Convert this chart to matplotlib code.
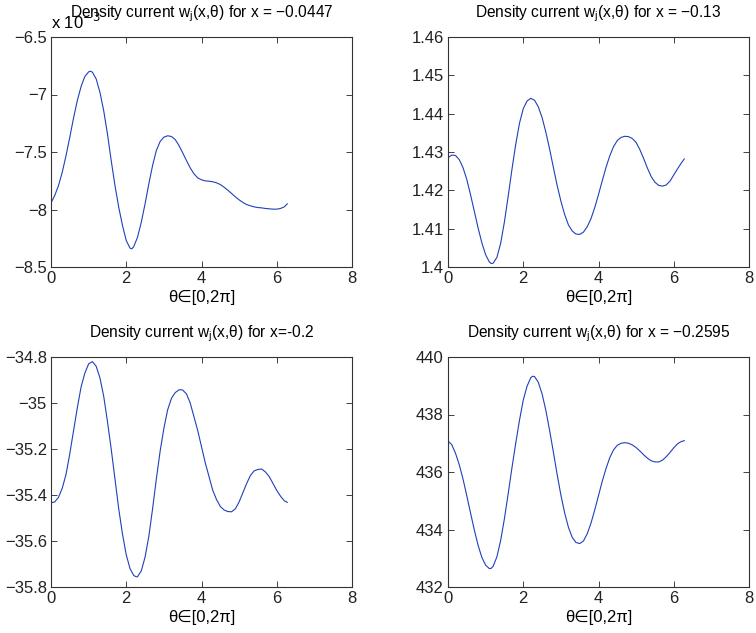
import matplotlib
matplotlib.use("Agg")
import matplotlib.pyplot as plt
from matplotlib.ticker import FuncFormatter

plt.rcParams['font.family'] = ['Liberation Sans', 'DejaVu Sans']
plt.rcParams['font.size'] = 10

# values (theta in [0, 2pi])
theta_a = [0, 0.1, 0.2, 0.3, 0.4, 0.5, 0.6, 0.7, 0.8, 0.9, 1.0, 1.05, 1.1, 1.2, 1.3, 1.4,
           1.5, 1.6, 1.7, 1.8, 1.9, 2.0, 2.1, 2.15, 2.2, 2.3, 2.4, 2.5, 2.6, 2.7, 2.8, 2.9,
           3.0, 3.1, 3.2, 3.3, 3.4, 3.5, 3.6, 3.7, 3.8, 3.9, 4.0, 4.1, 4.2, 4.3, 4.4, 4.5,
           4.6, 4.7, 4.8, 4.9, 5.0, 5.1, 5.2, 5.3, 5.4, 5.5, 5.6, 5.7, 5.8, 5.9, 6.0, 6.1,
           6.2, 6.28]
w_a = [-7.942, -7.878, -7.791, -7.675, -7.530, -7.371, -7.203, -7.052, -6.930, -6.843,
       -6.803, -6.797, -6.806, -6.864, -6.980, -7.139, -7.342, -7.574, -7.791, -7.980,
       -8.139, -8.270, -8.336, -8.342, -8.322, -8.241, -8.110, -7.951, -7.777, -7.617,
       -7.487, -7.409, -7.371, -7.359, -7.365, -7.391, -7.443, -7.507, -7.574, -7.638,
       -7.690, -7.725, -7.742, -7.751, -7.754, -7.759, -7.768, -7.783, -7.806, -7.832,
       -7.861, -7.890, -7.916, -7.939, -7.957, -7.968, -7.977, -7.983, -7.986, -7.991,
       -7.994, -7.997, -7.997, -7.991, -7.977, -7.951]  # x 1e-3

theta_b = [0, 0.1, 0.2, 0.3, 0.4, 0.5, 0.6, 0.7, 0.8, 0.9, 1.0, 1.1, 1.15, 1.2, 1.3, 1.4,
           1.5, 1.6, 1.7, 1.8, 1.9, 2.0, 2.1, 2.2, 2.3, 2.4, 2.5, 2.6, 2.7, 2.8, 2.9, 3.0,
           3.1, 3.2, 3.3, 3.4, 3.5, 3.6, 3.7, 3.8, 3.9, 4.0, 4.1, 4.2, 4.3, 4.4, 4.5, 4.6,
           4.7, 4.8, 4.9, 5.0, 5.1, 5.2, 5.3, 5.4, 5.5, 5.6, 5.7, 5.8, 5.9, 6.0, 6.1, 6.2,
           6.28]
w_b = [1.4285, 1.4292, 1.4291, 1.4280, 1.4259, 1.4228, 1.4188, 1.4145, 1.4102, 1.4063,
       1.4032, 1.4013, 1.4009, 1.4010, 1.4025, 1.4062, 1.4118, 1.4185, 1.4255, 1.4320,
       1.4375, 1.4413, 1.4433, 1.4440, 1.4435, 1.4418, 1.4390, 1.4352, 1.4308, 1.4260,
       1.4213, 1.4172, 1.4137, 1.4110, 1.4094, 1.4086, 1.4085, 1.4091, 1.4105, 1.4126,
       1.4155, 1.4189, 1.4225, 1.4260, 1.4290, 1.4314, 1.4330, 1.4338, 1.4341, 1.4340,
       1.4335, 1.4325, 1.4306, 1.4283, 1.4258, 1.4236, 1.4221, 1.4213, 1.4211, 1.4214,
       1.4224, 1.4240, 1.4256, 1.4271, 1.4282]

theta_c = [0, 0.1, 0.2, 0.3, 0.4, 0.5, 0.6, 0.7, 0.8, 0.9, 1.0, 1.1, 1.2, 1.3, 1.4, 1.5,
           1.6, 1.7, 1.8, 1.9, 2.0, 2.1, 2.2, 2.27, 2.3, 2.4, 2.5, 2.6, 2.7, 2.8, 2.9, 3.0,
           3.1, 3.2, 3.3, 3.4, 3.45, 3.5, 3.6, 3.7, 3.8, 3.9, 4.0, 4.1, 4.2, 4.3, 4.4, 4.5,
           4.6, 4.7, 4.8, 4.9, 5.0, 5.1, 5.2, 5.3, 5.4, 5.5, 5.6, 5.7, 5.8, 5.9, 6.0, 6.1,
           6.2, 6.28]
w_c = [-35.434, -35.430, -35.41, -35.37, -35.31, -35.22, -35.12, -35.02, -34.93, -34.87,
       -34.83, -34.82, -34.84, -34.89, -34.97, -35.08, -35.20, -35.33, -35.46, -35.57,
       -35.66, -35.72, -35.75, -35.756, -35.755, -35.73, -35.67, -35.58, -35.46, -35.33,
       -35.21, -35.11, -35.03, -34.98, -34.955, -34.943, -34.942, -34.944, -34.96, -35.00,
       -35.06, -35.12, -35.19, -35.26, -35.32, -35.38, -35.42, -35.45, -35.465, -35.472,
       -35.473, -35.46, -35.43, -35.39, -35.35, -35.315, -35.295, -35.289, -35.287, -35.30,
       -35.32, -35.35, -35.38, -35.405, -35.425, -35.432]

theta_d = [0, 0.1, 0.2, 0.3, 0.4, 0.5, 0.6, 0.7, 0.8, 0.9, 1.0, 1.1, 1.15, 1.2, 1.3, 1.4,
           1.5, 1.6, 1.7, 1.8, 1.9, 2.0, 2.1, 2.2, 2.25, 2.3, 2.4, 2.5, 2.6, 2.7, 2.8, 2.9,
           3.0, 3.1, 3.2, 3.3, 3.4, 3.5, 3.6, 3.7, 3.8, 3.9, 4.0, 4.1, 4.2, 4.3, 4.4, 4.5,
           4.6, 4.7, 4.8, 4.9, 5.0, 5.1, 5.2, 5.3, 5.4, 5.5, 5.6, 5.7, 5.8, 5.9, 6.0, 6.1,
           6.2, 6.28]
w_d = [437.08, 436.95, 436.65, 436.25, 435.75, 435.17, 434.57, 433.98, 433.45, 433.03,
       432.76, 432.64, 432.65, 432.72, 433.05, 433.62, 434.38, 435.25, 436.15, 437.00,
       437.80, 438.50, 438.98, 439.28, 439.33, 439.32, 439.12, 438.72, 438.15, 437.45,
       436.70, 435.92, 435.20, 434.58, 434.08, 433.73, 433.55, 433.51, 433.60, 433.85,
       434.22, 434.68, 435.18, 435.68, 436.12, 436.50, 436.77, 436.93, 437.00, 437.02,
       437.00, 436.94, 436.85, 436.73, 436.60, 436.48, 436.39, 436.35, 436.35, 436.41,
       436.53, 436.68, 436.84, 436.98, 437.06, 437.09]

titles = ["Density current w$_\\mathregular{j}$(x,\u03b8) for x = \u22120.0447",
          "Density current w$_\\mathregular{j}$(x,\u03b8) for x = \u22120.13",
          "Density current w$_\\mathregular{j}$(x,\u03b8) for x=-0.2",
          "Density current w$_\\mathregular{j}$(x,\u03b8) for x = \u22120.2595"]
yticks = [[-8.5, -8, -7.5, -7, -6.5],
          [1.40, 1.41, 1.42, 1.43, 1.44, 1.45, 1.46],
          [-35.8, -35.6, -35.4, -35.2, -35.0, -34.8],
          [432, 434, 436, 438, 440]]
xticks = [0, 2, 4, 6, 8]

W, H = 756, 633
boxes = [(51, 37), (448, 37), (51, 357), (448, 357)]  # left, top in px
aw, ah = 301, 230

fig = plt.figure(figsize=(W / 100, H / 100), dpi=100)

series = [(theta_a, w_a), (theta_b, w_b), (theta_c, w_c), (theta_d, w_d)]


def fmt(v, pos):
    s = "%g" % round(v, 6)
    return s.replace("-", "\u2212")


for i, (th, w) in enumerate(series):
    left, top = boxes[i]
    ax = fig.add_axes([left / W, 1 - (top + ah) / H, aw / W, ah / H])
    ax.plot(th, w, color='#2040b8', lw=0.8)
    ax.set_xlim(0, 8)
    ax.set_ylim(yticks[i][0], yticks[i][-1])
    ax.set_xticks(xticks)
    ax.set_yticks(yticks[i])
    ax.xaxis.set_major_formatter(FuncFormatter(fmt))
    ax.yaxis.set_major_formatter(FuncFormatter(fmt))
    ax.tick_params(direction='in', top=True, right=True, length=4, width=0.6,
                   labelsize=12, pad=3, colors='#222222')
    for sp in ax.spines.values():
        sp.set_linewidth(0.8)
        sp.set_color('#333333')
    ax.set_title(titles[i], fontsize=11.2, pad=14)
    ax.set_xlabel("\u03b8\u2208[0,2\u03c0]", fontsize=12, labelpad=3)

    if i == 0:
        ax.text(0.0, 1.02, "x 10$^{\u22123}$", transform=ax.transAxes,
                fontsize=12, ha='left', va='bottom')

fig.savefig("out.png", dpi=100)
